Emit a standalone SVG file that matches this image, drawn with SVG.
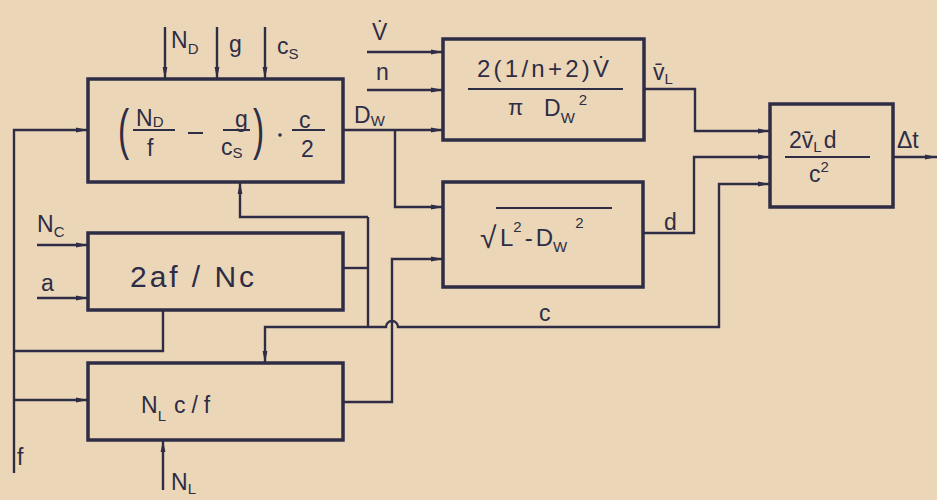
<svg xmlns="http://www.w3.org/2000/svg" width="937" height="500" viewBox="0 0 937 500">
<style>
.bg{fill:#EBD7B8}
.box{fill:none;stroke:#2E2D45;stroke-width:3.5}
.ln{fill:none;stroke:#2E2D45;stroke-width:2.4}
.fr{stroke:#2E2D45;stroke-width:2}
text{font-family:"Liberation Sans","DejaVu Sans",sans-serif;fill:#2E2D45}
.t{font-size:23px}
.s{font-size:15px}
</style>
<defs>
<marker id="ah" viewBox="0 0 12 6" refX="12" refY="3" markerWidth="12" markerHeight="6" markerUnits="userSpaceOnUse" orient="auto">
<path d="M0,0.6 L12,3 L0,5.4 z" fill="#2E2D45"/>
</marker>
</defs>
<rect class="bg" x="0" y="0" width="937" height="500"/>

<g id="connectors">
<path class="ln" marker-end="url(#ah)" d="M165,27 V79"/>
<path class="ln" marker-end="url(#ah)" d="M217,27 V79"/>
<path class="ln" marker-end="url(#ah)" d="M265,27 V79"/>
<path class="ln" marker-end="url(#ah)" d="M14,473 V130 H88"/>
<path class="ln" marker-end="url(#ah)" d="M14,400 H88"/>
<path class="ln" d="M14,351 H163 V310"/>
<path class="ln" marker-end="url(#ah)" d="M37,245 H88"/>
<path class="ln" marker-end="url(#ah)" d="M37,298 H88"/>
<path class="ln" marker-end="url(#ah)" d="M367,52 H443"/>
<path class="ln" marker-end="url(#ah)" d="M367,90 H443"/>
<path class="ln" marker-end="url(#ah)" d="M343,130 H443"/>
<path class="ln" marker-end="url(#ah)" d="M395,130 V207 H443"/>
<path class="ln" d="M343,268 H368"/>
<path class="ln" marker-end="url(#ah)" d="M368,217 H240 V182"/>
<path class="ln" d="M368,217 V327"/>
<path class="ln" marker-end="url(#ah)" d="M368,327 H265 V363"/>
<path class="ln" marker-end="url(#ah)" d="M368,327 H386 A6,6 0 0 1 398,327 H719 V184 H770"/>
<path class="ln" marker-end="url(#ah)" d="M343,402 H392 V259 H443"/>
<path class="ln" marker-end="url(#ah)" d="M644,89 H695 V131 H770"/>
<path class="ln" marker-end="url(#ah)" d="M643,233 H694 V157 H770"/>
<path class="ln" marker-end="url(#ah)" d="M893,157 H937"/>
<path class="ln" marker-end="url(#ah)" d="M163,490 V440"/>
</g>

<g id="labels">
<text class="t" x="171" y="48">N<tspan class="s" dy="6">D</tspan></text>
<text class="t" x="229" y="52">g</text>
<text class="t" x="277" y="54">c<tspan class="s" dy="5">S</tspan></text>
<text class="t" x="372" y="40">V̇</text>
<text class="t" x="376" y="80">n</text>
<text class="t" x="354" y="123">D<tspan class="s" dy="3">W</tspan></text>
<text class="t" x="37" y="232">N<tspan class="s" dy="5">C</tspan></text>
<text class="t" x="41" y="291">a</text>
<text class="t" x="17" y="465">f</text>
<text class="t" x="171" y="490">N<tspan class="s" dy="4">L</tspan></text>
<text class="t" x="539" y="321">c</text>
<text class="t" x="664" y="230">d</text>
<text class="t" x="653" y="80">v̄<tspan class="s" dy="4">L</tspan></text>
<text class="t" x="897" y="148">Δt</text>
</g>

<g id="boxA">
<rect class="box" x="88" y="79" width="255" height="103"/>
<text x="118" y="148" style="font-size:56px" transform="translate(118,0) scale(0.6,1) translate(-118,0)">(</text>
<text class="t" x="136" y="126">N<tspan class="s" dy="1">D</tspan></text>
<line class="fr" x1="133" y1="130" x2="175" y2="130"/>
<text class="t" x="147" y="156">f</text>
<line class="fr" x1="188" y1="133" x2="203" y2="133"/>
<text class="t" x="235" y="127">g</text>
<line class="fr" x1="223" y1="130" x2="250" y2="130"/>
<text class="t" x="221" y="155">c<tspan class="s" dy="3">S</tspan></text>
<text x="253" y="148" style="font-size:56px" transform="translate(253,0) scale(0.6,1) translate(-253,0)">)</text>
<circle cx="280" cy="135" r="1.8" fill="#2E2D45"/>
<text class="t" x="299" y="128">c</text>
<line class="fr" x1="292" y1="130" x2="325" y2="130"/>
<text class="t" x="301" y="157">2</text>
</g>

<g id="boxB">
<rect class="box" x="88" y="233" width="255" height="77"/>
<text x="130" y="287" style="font-size:30px" textLength="124" lengthAdjust="spacing">2af / Nc</text>
</g>

<g id="boxC">
<rect class="box" x="88" y="363" width="255" height="77"/>
<text x="141" y="413" style="font-size:23px">N<tspan class="s" dy="8">L</tspan><tspan dy="-8" dx="8">c</tspan><tspan dx="6">/</tspan><tspan dx="6">f</tspan></text>
</g>

<g id="boxD1">
<rect class="box" x="443" y="39" width="201" height="101"/>
<text x="477" y="77" style="font-size:24px" textLength="132" lengthAdjust="spacing">2(1/n+2)V̇</text>
<line class="fr" x1="468" y1="89" x2="623" y2="89"/>
<text x="508" y="115" style="font-size:22px">π</text>
<text x="544" y="116" style="font-size:23px">D<tspan class="s" dy="7">W</tspan><tspan class="s" dy="-18" dx="4">2</tspan></text>
</g>

<g id="boxD2">
<rect class="box" x="443" y="182" width="200" height="105"/>
<text x="480" y="248" style="font-size:30px">√</text>
<line class="fr" x1="496" y1="208" x2="612" y2="208"/>
<text x="500" y="246" style="font-size:24px">L<tspan class="s" dy="-14">2</tspan><tspan dy="14" dx="3">-</tspan><tspan dx="3">D</tspan><tspan class="s" dy="6">W</tspan><tspan class="s" dy="-24" dx="8">2</tspan></text>
</g>

<g id="boxE">
<rect class="box" x="770" y="104" width="123" height="103"/>
<text x="789" y="148" style="font-size:23px">2v̄<tspan class="s" dy="4">L</tspan><tspan dy="-4" dx="2">d</tspan></text>
<line class="fr" x1="785" y1="157" x2="870" y2="157"/>
<text x="809" y="182" style="font-size:23px">c<tspan class="s" dy="-10">2</tspan></text>
</g>
</svg>
